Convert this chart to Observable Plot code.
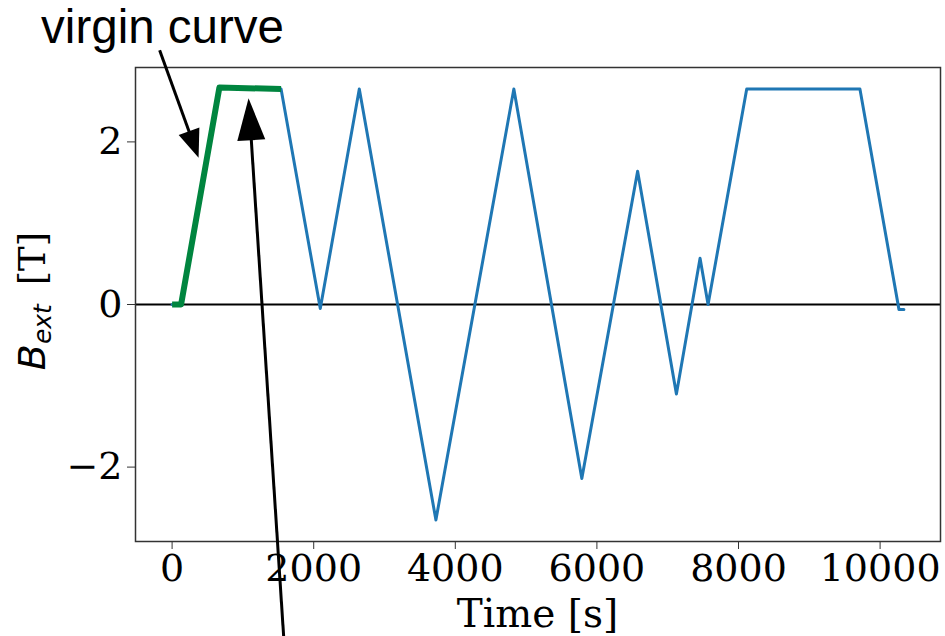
<!DOCTYPE html>
<html><head><meta charset="utf-8">
<script src="https://cdn.jsdelivr.net/npm/d3@7"></script>
<script src="https://cdn.jsdelivr.net/npm/@observablehq/plot@0.6"></script>
<style>body{margin:0;background:#fff} svg{display:block}</style>
</head><body><div id="chart"></div>
<script>
// Data (time in s, external field in T)
const timeS = [0, 127, 668, 1539, 2093, 2644, 3726, 4827, 5787, 6575, 7123, 7457, 7570, 8116, 9715, 10266, 10336];
const bExt  = [0, 0, 2.67, 2.65, -0.05, 2.65, -2.65, 2.65, -2.14, 1.64, -1.10, 0.57, 0.0, 2.65, 2.65, -0.06, -0.06];
const virginCount = 4;
const xTicks = [0, 2000, 4000, 6000, 8000, 10000];
const yTicks = [-2, 0, 2];
const xLabel = "Time [s]";
const annotText = "virgin curve";
const annotTextT = -135, annotTextB = 3.40;
const arrowTailT = [-169, 1591];
const arrowTailB = [3.12, -4.2];
const arrowTipT  = [381, 1087];
const arrowTipB  = [1.80, 2.53];

const data = timeS.map((t, i) => ({t, b: bExt[i]}));
const virgin = data.slice(0, virginCount);

const plot = Plot.plot({
  width: 945, height: 636,
  marginTop: 67, marginBottom: 95, marginLeft: 135, marginRight: 5,
  style: {fontFamily: "DejaVu Serif", fontSize: "38px", background: "white", overflow: "visible", color: "black"},
  x: {domain: [-517, 10853]},
  y: {domain: [-2.915, 2.915]},
  marks: [
    Plot.ruleY([0], {stroke: "black", strokeWidth: 2}),
    Plot.line(data, {x: "t", y: "b", stroke: "#1f77b4", strokeWidth: 3}),
    Plot.line(virgin, {x: "t", y: "b", stroke: "#00853f", strokeWidth: 6, strokeLinecap: "butt"}),
    Plot.frame({stroke: "#333", strokeWidth: 1.5}),
    Plot.axisX(xTicks, {tickSize: 8, tickPadding: 5, tickFormat: d => String(d), label: null, stroke: "#333", fill: "black"}),
    Plot.axisY(yTicks, {tickSize: 8, tickPadding: 5, tickFormat: d3.format("d"), label: null, stroke: "#333", fill: "black"}),
    Plot.text([annotText], {x: () => annotTextT, y: () => annotTextB, text: d => d,
      fontFamily: "Liberation Sans", fontSize: 47.5, fill: "black"})
  ]
});
document.getElementById("chart").appendChild(plot);

const svg = d3.select(plot);
const sx = plot.scale("x"), sy = plot.scale("y");

// arrows (annotation) with filled heads
const heads = [[28, 22], [42, 28]];
arrowTailT.forEach((_, i) => {
  const x1 = sx.apply(arrowTailT[i]), y1 = sy.apply(arrowTailB[i]);
  const x2 = sx.apply(arrowTipT[i]), y2 = sy.apply(arrowTipB[i]);
  const dx = x2 - x1, dy = y2 - y1, L = Math.hypot(dx, dy), ux = dx / L, uy = dy / L;
  const [hl, hw] = heads[i];
  const bx = x2 - ux * hl, by = y2 - uy * hl;
  svg.append("line").attr("x1", x1).attr("y1", y1).attr("x2", bx + ux * 2).attr("y2", by + uy * 2)
    .attr("stroke", "black").attr("stroke-width", 3);
  svg.append("path")
    .attr("d", `M${x2},${y2}L${bx - uy * hw / 2},${by + ux * hw / 2}L${bx + uy * hw / 2},${by - ux * hw / 2}Z`)
    .attr("fill", "black");
});

// x label
const r = sx.range;
svg.append("text").attr("x", (r[0] + r[1]) / 2).attr("y", 627).attr("text-anchor", "middle")
  .attr("font-family", "DejaVu Serif").attr("font-size", 39).attr("fill", "black").text(xLabel);

// y label
const ry = sy.range;
const yl = svg.append("text").attr("transform", `translate(45,${(ry[0] + ry[1]) / 2 - 3}) rotate(-90)`)
  .attr("text-anchor", "middle").attr("font-size", 38).attr("fill", "black");
yl.append("tspan").attr("font-family", "DejaVu Sans").attr("font-style", "italic").text("B");
yl.append("tspan").attr("font-family", "DejaVu Sans").attr("font-style", "italic").attr("font-size", 25).attr("dy", 6).text("ext");
yl.append("tspan").attr("dy", -6).attr("dx", 7).attr("font-family", "DejaVu Serif").attr("font-size", 37).text("\u00a0[T]");
</script>
</body></html>
